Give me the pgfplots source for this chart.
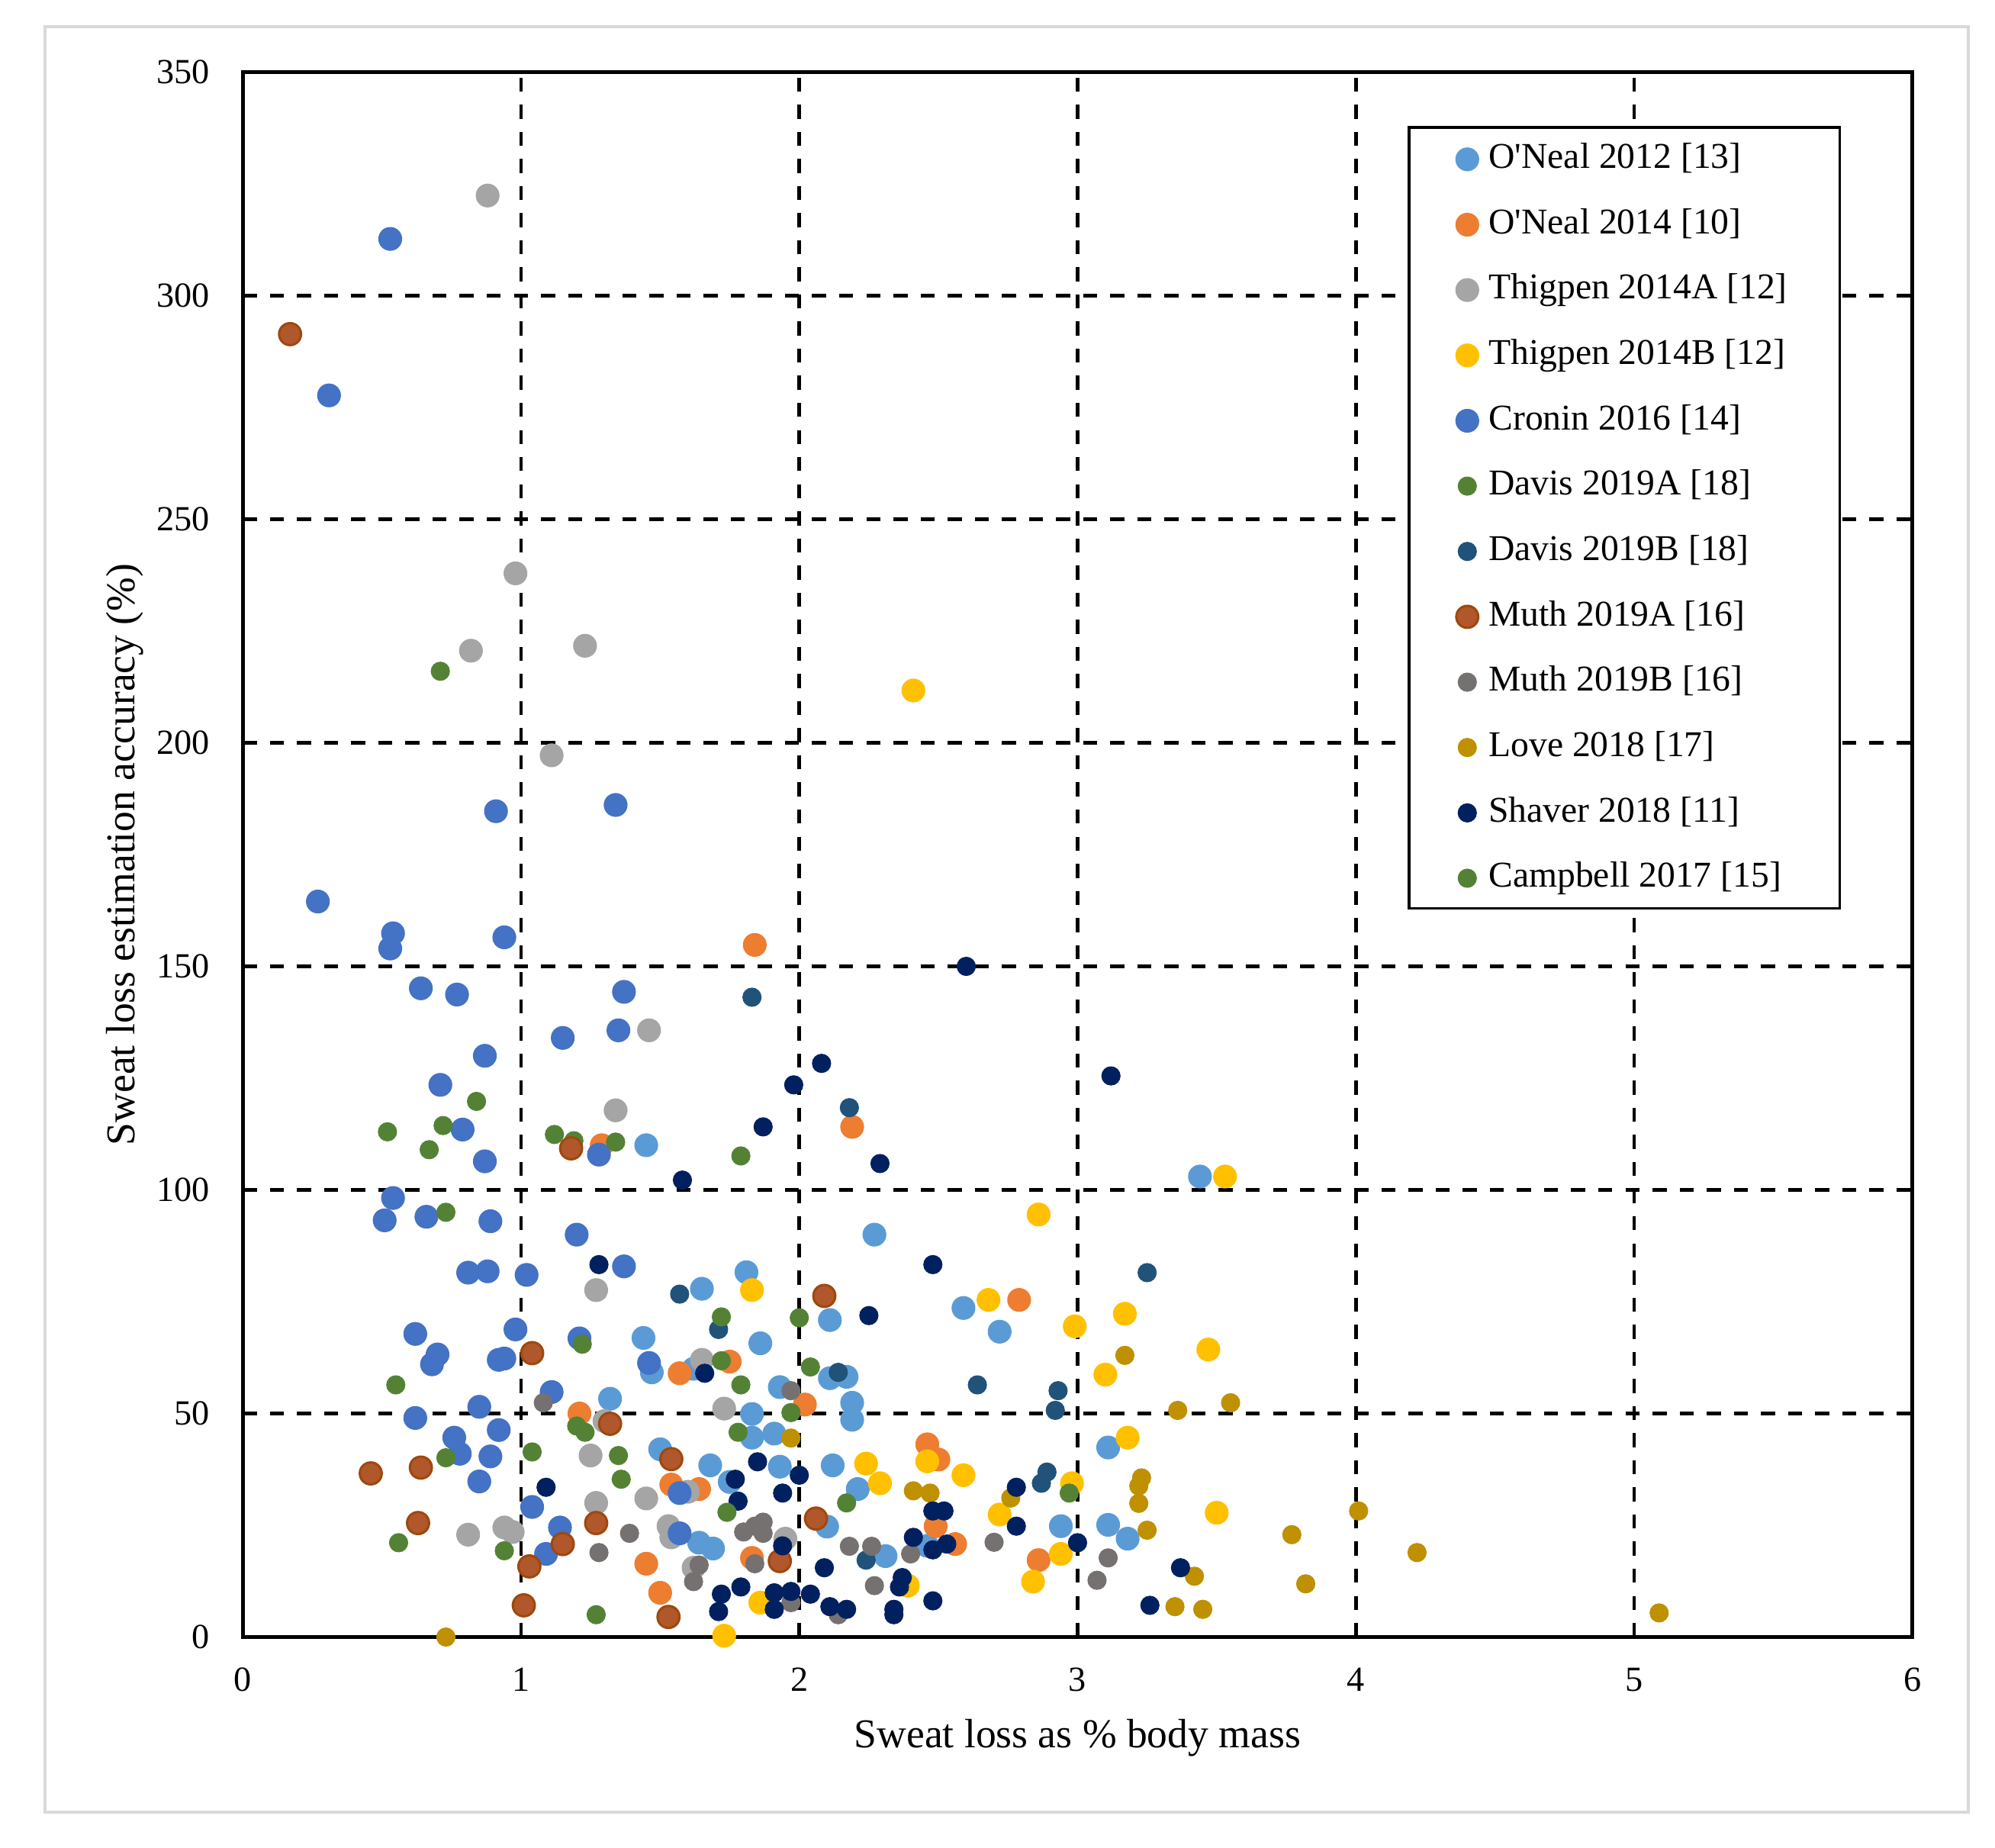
\documentclass[border=0pt]{standalone}
\usepackage{pgfplots}
\pgfplotsset{compat=1.18}
\usepackage{fontspec}
\setmainfont{Liberation Serif}
\newfontfamily\legfont{Liberation Serif}
\definecolor{oneal12}{HTML}{5B9BD5}
\definecolor{oneal14}{HTML}{ED7D31}
\definecolor{thigA}{HTML}{A5A5A5}
\definecolor{thigB}{HTML}{FFC000}
\definecolor{cronin}{HTML}{4472C4}
\definecolor{davisA}{HTML}{548235}
\definecolor{davisB}{HTML}{21527A}
\definecolor{muthA}{HTML}{B0572B}
\definecolor{muthAline}{HTML}{9E480E}
\definecolor{muthB}{HTML}{767171}
\definecolor{love}{HTML}{BF9000}
\definecolor{shaver}{HTML}{002060}
\definecolor{campbell}{HTML}{548235}
\definecolor{framegray}{HTML}{D9D9D9}
\begin{document}
\begin{tikzpicture}
\begin{axis}[
  scale only axis, width=652.8pt, height=611.8pt,
  xmin=0, xmax=6, ymin=0, ymax=350,
  xtick={0,1,...,6}, ytick={0,50,...,350},
  grid=major,
  major grid style={black, line width=1.45pt, dash pattern=on 5.5pt off 5.1pt},
  axis line style={black, line width=1.4pt},
  major tick length=0pt,
  tick style={draw=none},
  clip=false,
  /pgf/number format/assume math mode=true,
  tick label style={font=\fontsize{13.8}{16}\selectfont},
  xticklabel style={yshift=-8.5pt},
  yticklabel={\makebox[0pt][r]{\pgfmathprintnumber{\tick}}},
  yticklabel style={anchor=center, inner sep=0pt, xshift=-13pt},
  label style={font=\fontsize{16}{19}\selectfont},
  xlabel={Sweat loss as \% body mass},
  ylabel={Sweat loss estimation accuracy (\%)},
  xlabel style={at={(axis description cs:0.5,-0.0646)}, anchor=center},
  ylabel style={at={(axis description cs:-0.0705,0.5)}, anchor=center},
  legend cell align=left,
  legend image code/.code={\path[draw=none,fill=none] (0pt,-3pt) (31pt,3pt); \draw[#1] plot coordinates {(22.6pt,0pt)};},
  legend style={at={(rel axis cs:0.6985,0.9647)}, anchor=north west, draw=none, fill=none,
    inner xsep=0pt, inner ysep=5.8pt, row sep=12.55pt, column sep=0pt,
    font=\legfont\fontsize{14.2}{17}\selectfont,
    nodes={inner sep=0pt, text height=10pt, text depth=3pt}},
  big/.style={only marks, mark=*, mark size=4.5pt, mark options={draw=#1, fill=#1, line width=0.3pt}},
  small/.style={only marks, mark=*, mark size=3.6pt, mark options={draw=#1, fill=#1, line width=0.3pt}},
]
% white legend box (above the grid, below the marks and entries)
\filldraw[fill=white, draw=black, line width=1pt] (rel axis cs:0.6985,0.4655) rectangle (rel axis cs:0.9566,0.9647);
% O'Neal 2012
\addplot[big=oneal12] coordinates {
(1.45,110) (3.44,103) (1.81,81.6) (1.65,77.9) (1.44,66.9) (1.47,59.2) (1.62,60) (1.86,65.7)
(1.32,53.3) (1.83,49.9) (1.83,44.6) (1.50,42) (1.68,38.4) (1.75,34.7) (1.64,21.1) (1.69,19.8)
(2.27,90) (2.11,70.9) (2.59,73.6) (2.72,68.3) (2.11,57.9) (2.17,58.2) (1.93,55.9) (2.19,52.4)
(2.19,48.6) (1.91,45.5) (3.11,42.4) (1.93,38.1) (2.12,38.4) (2.21,33.1) (2.94,24.8) (3.11,25.1)
(3.18,22) (2.46,20.4) (2.31,18.1) (2.10,24.7)};
\addlegendentry{O'Neal 2012 [13]}
% O'Neal 2014
\addplot[big=oneal14] coordinates {
(1.84,154.8) (2.19,114.1) (1.29,110) (1.57,59) (1.75,61.6) (1.21,50) (1.54,34.1) (1.64,33.1)
(1.83,17.7) (1.45,16.4) (1.50,9.9) (2.79,75.4) (2.02,52) (2.46,43.1) (2.50,39.7) (2.49,24.8)
(2.56,20.8) (2.86,17.2)};
\addlegendentry{O'Neal 2014 [10]}
% Thigpen 2014A
\addplot[big=thigA] coordinates {
(0.88,322.4) (0.98,237.9) (0.82,220.6) (1.23,221.7) (1.11,197.2) (1.46,135.7) (1.34,117.8)
(1.27,77.6) (1.65,62) (1.30,48.3) (1.73,51.1) (1.25,40.6) (1.45,31) (1.27,30) (0.81,22.9)
(0.94,24.5) (0.97,23.5) (1.53,24.8) (1.54,22.3) (1.62,15.5) (1.60,32.5) (1.95,22)};
\addlegendentry{Thigpen 2014A [12]}
% Thigpen 2014B
\addplot[big=thigB] coordinates {
(2.41,211.7) (3.53,103) (2.86,94.5) (1.83,77.6) (1.86,7.7) (1.73,0.3) (2.68,75.4) (2.99,69.5)
(3.17,72.3) (3.10,58.7) (2.46,39.3) (2.59,36.2) (3.18,44.6) (2.24,38.8) (2.29,34.4) (2.98,34.4)
(2.72,27.4) (2.94,18.6) (2.84,12.4) (2.39,11.5) (3.47,64.3) (3.50,27.8)};
\addlegendentry{Thigpen 2014B [12]}
% Cronin 2016
\addplot[big=cronin] coordinates {
(0.53,312.7) (0.31,277.7) (0.27,164.5) (0.54,157.4) (0.53,154) (0.91,184.7) (1.34,186.1)
(0.94,156.5) (0.64,145.1) (0.77,143.7) (1.37,144.3) (1.15,134) (1.35,135.7) (0.87,130)
(0.71,123.5) (0.79,113.5) (0.87,106.4) (1.28,107.9) (0.54,98.2)
(0.51,93.2) (0.66,94) (0.89,93) (1.20,90) (0.81,81.5) (0.88,81.8) (1.02,81) (1.37,82.9)
(0.62,67.8) (0.98,68.8) (1.21,66.8) (0.70,63.2) (0.68,61) (0.92,62) (0.94,62.3) (1.46,61.3)
(1.11,54.8) (0.85,51.5) (0.62,49) (0.76,44.6) (0.78,41) (0.92,46.3) (0.89,40.4) (0.85,34.8)
(1.57,32.2) (1.04,29.1) (1.14,24.5) (1.09,18.6) (1.57,23.2)};
\addlegendentry{Cronin 2016 [14]}
% Davis 2019A
\addplot[small=davisA] coordinates {
(0.71,216) (0.84,119.8) (0.52,113) (0.72,114.4) (0.67,109) (1.12,112.4) (1.19,111) (1.34,110.7)
(1.79,107.6) (0.73,95) (0.55,56.4) (0.73,40.1) (0.56,21.1) (0.94,19.3) (1.04,41.4) (1.27,5.0)};
\addlegendentry{Davis 2019A [18]}
% Davis 2019B
\addplot[small=davisB] coordinates {
(1.83,143.1) (2.18,118.4) (1.57,76.7) (1.71,68.8) (3.25,81.5) (2.14,59.2) (2.64,56.4)
(2.93,55.1) (2.92,50.7) (2.89,36.9) (2.87,34.4) (2.24,17.2)};
\addlegendentry{Davis 2019B [18]}
% Muth 2019A
\addplot[only marks, mark=*, mark size=4.3pt, mark options={draw=muthAline, fill=muthA, line width=0.9pt}] coordinates {
(0.17,291.4) (1.18,109.3) (1.04,63.5) (1.32,47.7) (0.46,36.6) (0.64,37.9) (1.54,39.8)
(0.63,25.5) (1.15,20.8) (1.27,25.5) (1.03,15.8) (1.01,7.1) (1.53,4.5) (2.09,76.3) (2.06,26.5)
(1.93,17)};
\addlegendentry{Muth 2019A [16]}
% Muth 2019B
\addplot[small=muthB] coordinates {
(1.08,52.4) (1.39,23.2) (1.28,18.9) (1.80,23.5) (1.84,24.8) (1.84,16.4) (1.64,16.1) (1.62,12.4)
(1.97,55.1) (2.70,21.2) (2.40,18.6) (2.18,20.3) (2.26,20.3) (1.87,25.7) (1.87,23.2) (2.27,11.5)
(1.97,7.7) (2.14,5) (3.11,17.7) (3.07,12.7)};
\addlegendentry{Muth 2019B [16]}
% Love 2018
\addplot[small=love] coordinates {
(0.73,0) (3.17,63) (3.36,50.7) (1.97,44.5) (2.41,32.7) (2.47,32.2) (2.76,31.1) (3.23,35.6)
(3.22,33.8) (3.22,29.9) (3.25,23.9) (3.35,6.8) (3.55,52.4) (3.77,22.9) (4.01,28.2) (4.22,18.9)
(3.42,13.6) (3.82,11.9) (3.45,6.2) (5.09,5.4)};
\addlegendentry{Love 2018 [17]}
% Shaver 2018
\addplot[small=shaver] coordinates {
(2.60,150) (2.08,128.3) (1.98,123.5) (1.87,114.1) (2.29,105.9) (1.58,102.2) (3.12,125.5)
(1.28,83.3) (1.66,59) (1.85,39.2) (1.77,35.3) (1.78,30.4) (1.09,33.5) (1.72,9.6) (1.79,11.2)
(1.71,5.7) (2.48,83.3) (2.25,71.9) (2.00,36.2) (1.94,32.2) (2.78,33.5) (2.78,24.8) (3.00,21.1)
(3.37,15.5) (3.26,7.1) (2.48,28.2) (2.52,28.2) (2.41,22.3) (2.48,19.5) (2.53,20.8) (1.94,20.4)
(2.09,15.5) (2.37,13.3) (2.36,11.2) (2.48,8.1) (2.34,6.2) (2.34,5) (1.91,9.9) (1.97,10.2)
(2.04,9.6) (1.91,6.2) (2.11,6.8) (2.17,6.2)};
\addlegendentry{Shaver 2018 [11]}
% Campbell 2017
\addplot[small=campbell] coordinates {
(1.72,71.6) (1.22,65.5) (1.72,61.8) (1.79,56.4) (1.20,47.2) (1.23,45.8) (1.78,45.8) (1.35,40.6)
(1.36,35.3) (1.74,27.9) (2.00,71.4) (2.04,60.4) (1.97,50.2) (2.17,30) (2.97,32.2)};
\addlegendentry{Campbell 2017 [15]}
% chart frame and page extent
\draw[framegray, line width=1.3pt] (rel axis cs:-0.1183,-0.1118) rectangle (rel axis cs:1.0336,1.0291);
\path (rel axis cs:-0.1454,-0.1347) rectangle (rel axis cs:1.0495,1.0461);
\end{axis}
\end{tikzpicture}
\end{document}
